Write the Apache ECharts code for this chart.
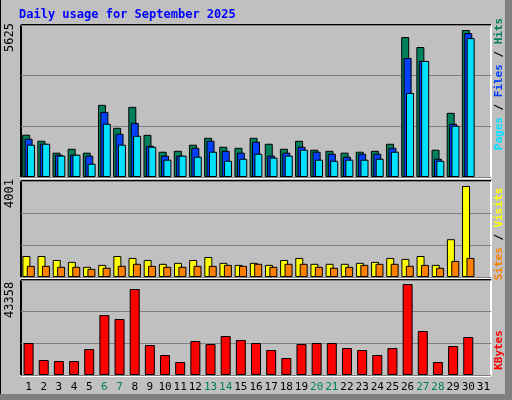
<!DOCTYPE html>
<html>
<head>
<meta charset="utf-8">
<script src="https://cdn.jsdelivr.net/npm/echarts@6/dist/echarts.min.js"></script>
<style>
  html, body { margin: 0; padding: 0; background: #c0c0c0; }
  #chart { width: 512px; height: 400px; }
</style>
</head>
<body>
<div id="chart"></div>
<script>
// days of September 2025 (31 slots as in the original)
const days = Array.from({length: 31}, (_, i) => String(i + 1));
const weekend = ['6', '7', '13', '14', '20', '21', '27', '28'];

const hits  = [1565,1340,900,1045,900,2670,1820,2595,1560,935,970,1195,1450,1120,1080,1450,1230,1045,1340,1010,970,900,935,970,1230,5180,4810,1010,2375,5440];
const files = [1415,1230,825,825,790,2410,1600,2005,1155,790,790,1080,1340,970,900,1305,790,900,1120,935,860,750,860,860,1080,4405,4295,675,1970,5325];
const pages = [1195,1230,790,825,490,1970,1195,1525,1120,640,790,750,935,600,675,860,715,790,1010,640,600,640,640,675,935,3110,4295,600,1895,5140];

const visits = [875,875,710,630,425,505,875,795,710,550,590,710,835,590,505,590,505,710,795,550,550,550,590,630,795,755,875,505,1575,3795];
const sites  = [465,465,425,425,340,385,465,550,465,425,425,465,465,505,465,550,425,550,550,425,385,425,505,550,550,465,505,385,670,795];

const kbytes = [14600,6840,6385,6385,11860,27380,25550,39240,13690,9125,5930,15510,14145,17790,15970,14600,11405,7755,14145,14600,14600,12320,11405,9125,12320,41520,20075,5930,13230,17340];

const maxHits = 5625, maxVisits = 4001, maxKB = 43358;

const chart = echarts.init(document.getElementById('chart'));
const font = 'DejaVu Sans Mono, monospace';
const bar = (name, data, color, xi, w, gap) => ({
    name, type: 'bar', data, xAxisIndex: xi, yAxisIndex: xi, barWidth: w, barGap: gap,
    itemStyle: { color, borderColor: '#000', borderWidth: 1 }, animation: false
});
const xa = (gi, show) => ({
    type: 'category', data: days, gridIndex: gi,
    axisLine: { show: false }, axisTick: { show: false },
    axisLabel: {
        show: show, interval: 0, fontFamily: font, fontSize: 11, margin: 7,
        color: v => weekend.includes(v) ? '#00805a' : '#000'
    }
});
const ya = (gi, max) => ({
    type: 'value', gridIndex: gi, min: 0, max, interval: max / 3,
    axisLabel: { show: false }, axisLine: { show: false }, axisTick: { show: false },
    splitLine: { lineStyle: { color: '#808080', width: 1 } }
});
const frame = (top, h) => [
    { type: 'line', shape: { x1: 21, y1: top, x2: 491, y2: top }, style: { stroke: '#000', lineWidth: 2 } },
    { type: 'line', shape: { x1: 21, y1: top, x2: 21, y2: top + h }, style: { stroke: '#000', lineWidth: 2 } },
    { type: 'line', shape: { x1: 491, y1: top, x2: 491, y2: top + h + 1 }, style: { stroke: '#fff', lineWidth: 2 } },
    { type: 'line', shape: { x1: 21, y1: top + h + 1, x2: 491, y2: top + h + 1 }, style: { stroke: '#fff', lineWidth: 2 } }
];
const vlabel = (x, y, text, color) => ({
    type: 'text', x, y, rotation: Math.PI / 2,
    style: { text, fill: color, font: '12px ' + font, align: 'left', verticalAlign: 'middle' }
});
const side = (x, cy, rich, text) => ({
    type: 'text', x, y: cy, rotation: Math.PI / 2,
    style: { text, rich, font: 'bold 11px ' + font, align: 'center', verticalAlign: 'middle' }
});

chart.setOption({
    backgroundColor: '#c0c0c0',
    grid: [
        { left: 21, right: 21, top: 25, height: 152 },
        { left: 21, right: 21, top: 181, height: 96 },
        { left: 21, right: 21, top: 280, height: 95 }
    ],
    xAxis: [xa(0, false), xa(1, false), xa(2, true)],
    yAxis: [ya(0, maxHits), ya(1, maxVisits), ya(2, maxKB)],
    series: [
        bar('Hits', hits, '#00805c', 0, 8, '-70%'),
        bar('Files', files, '#0040ff', 0, 8, '-70%'),
        bar('Pages', pages, '#00e0ff', 0, 8, '-70%'),
        bar('Visits', visits, '#ffff00', 1, 8, '-45%'),
        bar('Sites', sites, '#ff8000', 1, 8, '-45%'),
        bar('KBytes', kbytes, '#ff0000', 2, 10, '0%')
    ],
    graphic: [
        { type: 'line', shape: { x1: 0, y1: 0, x2: 0, y2: 400 }, style: { stroke: '#000', lineWidth: 2 } },
        { type: 'rect', shape: { x: 505, y: 0, width: 7, height: 400 }, style: { fill: '#808080' } },
        { type: 'rect', shape: { x: 0, y: 394, width: 512, height: 6 }, style: { fill: '#808080' } },
        { type: 'text', x: 19, y: 9, style: { text: 'Daily usage for September 2025', fill: '#0000ff', font: 'bold 12px ' + font } },
        ...frame(25, 152), ...frame(181, 96), ...frame(280, 95),
        vlabel(10, 52, String(maxHits), '#000'),
        vlabel(10, 208, String(maxVisits), '#000'),
        vlabel(10, 318, String(maxKB), '#000'),
        side(499, 84, { p: { fill: '#00e0ff' }, s: { fill: '#000' }, f: { fill: '#0040ff' }, h: { fill: '#00805c' } },
            '{p|Pages}{s| / }{f|Files}{s| / }{h|Hits}'),
        side(499, 234, { a: { fill: '#ff8000' }, s: { fill: '#000' }, b: { fill: '#ffff00' } },
            '{a|Sites}{s| / }{b|Visits}'),
        side(499, 350, { k: { fill: '#ff0000' } }, '{k|KBytes}')
    ]
});
</script>
</body>
</html>
